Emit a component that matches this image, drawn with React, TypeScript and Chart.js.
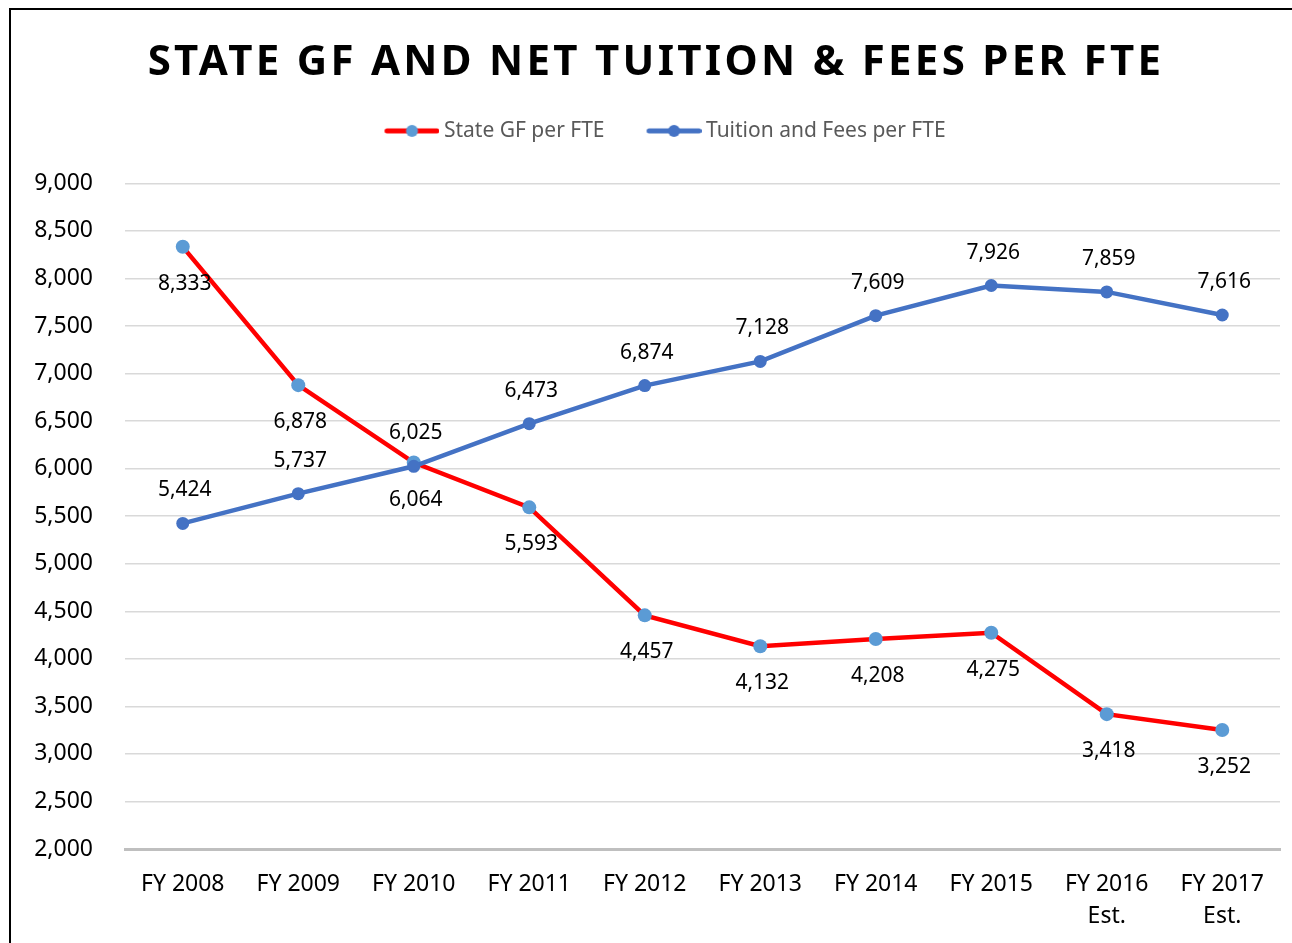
import React, { useEffect, useRef } from 'react';
import { Chart, registerables } from 'chart.js';

Chart.register(...registerables);

const chartTitle = 'STATE GF AND NET TUITION & FEES PER FTE';
const categories = [
  'FY 2008', 'FY 2009', 'FY 2010', 'FY 2011', 'FY 2012',
  'FY 2013', 'FY 2014', 'FY 2015', 'FY 2016\nEst.', 'FY 2017\nEst.',
];
const stateGFLabel = 'State GF per FTE';
const stateGF = [8333, 6878, 6064, 5593, 4457, 4132, 4208, 4275, 3418, 3252];
const tuitionLabel = 'Tuition and Fees per FTE';
const tuition = [5424, 5737, 6025, 6473, 6874, 7128, 7609, 7926, 7859, 7616];
const yMin = 2000;
const yMax = 9000;
const yStep = 500;

const FONT = '"Noto Sans", "DejaVu Sans", sans-serif';
const fmt = (v: number) => v.toLocaleString('en-US');

function legendMarker(lineColor: string, dotColor: string) {
  const c = document.createElement('canvas');
  c.width = 93;
  c.height = 16;
  const g = c.getContext('2d')!;
  g.strokeStyle = lineColor;
  g.lineWidth = 5;
  g.lineCap = 'round';
  g.beginPath();
  g.moveTo(40.5, 8);
  g.lineTo(90.5, 8);
  g.stroke();
  g.fillStyle = dotColor;
  g.beginPath();
  g.arc(65.5, 8, 6, 0, Math.PI * 2);
  g.fill();
  return c;
}

const dataLabelsPlugin = {
  id: 'dataLabels',
  afterDatasetsDraw(chart: any) {
    const ctx = chart.ctx;
    ctx.save();
    ctx.font = `21px ${FONT}`;
    ctx.fillStyle = '#000000';
    ctx.textAlign = 'center';
    ctx.textBaseline = 'middle';
    chart.data.datasets.forEach((ds: any, i: number) => {
      const meta = chart.getDatasetMeta(i);
      meta.data.forEach((pt: any, j: number) => {
        ctx.fillText(fmt(ds.data[j]), pt.x + 2, pt.y + ds.labelOffset);
      });
    });
    ctx.restore();
  },
};

const layoutPatchPlugin = {
  id: 'layoutPatch',
  beforeLayout(chart: any) {
    const lg = chart.legend;
    if (lg && !lg.__patched) {
      const origFit = lg.fit.bind(lg);
      lg.fit = function () {
        origFit();
        this.height += 32;
      };
      const origDraw = lg.draw.bind(lg);
      lg.draw = function () {
        const c = chart.ctx;
        c.save();
        c.translate(-7, 0);
        origDraw();
        c.restore();
      };
      lg.__patched = true;
    }
  },
  beforeDraw(chart: any) {
    const tb = chart.titleBlock;
    if (tb && !tb.__patched) {
      const origDraw = tb.draw.bind(tb);
      tb.draw = function () {
        const c = chart.ctx;
        c.save();
        c.letterSpacing = '3.3px';
        origDraw();
        c.restore();
      };
      tb.__patched = true;
    }
  },
};

export default function App() {
  const ref = useRef<HTMLCanvasElement | null>(null);

  useEffect(() => {
    if (!ref.current) return;
    const redMarker = legendMarker('#FF0000', '#5B9BD5');
    const blueMarker = legendMarker('#4472C4', '#4472C4');
    const chart = new Chart(ref.current, {
      type: 'line',
      data: {
        labels: categories.map((c) => c.split('\n')),
        datasets: [
          {
            label: stateGFLabel,
            data: stateGF,
            borderColor: '#FF0000',
            backgroundColor: '#5B9BD5',
            pointBackgroundColor: '#5B9BD5',
            pointBorderColor: '#5B9BD5',
            pointRadius: 7,
            pointBorderWidth: 0,
            borderWidth: 4.5,
            tension: 0,
            order: 1,
            labelOffset: 37,
          } as any,
          {
            label: tuitionLabel,
            data: tuition,
            borderColor: '#4472C4',
            backgroundColor: '#4472C4',
            pointBackgroundColor: '#4472C4',
            pointBorderColor: '#4472C4',
            pointRadius: 6.5,
            pointBorderWidth: 0,
            borderWidth: 4.5,
            tension: 0,
            order: 0,
            labelOffset: -33,
          } as any,
        ],
      },
      options: {
        responsive: false,
        animation: false,
        devicePixelRatio: 1,
        layout: { padding: { top: 0, left: 21, right: 12, bottom: 0 } },
        plugins: {
          title: {
            display: true,
            text: chartTitle,
            color: '#000000',
            font: { family: FONT, size: 42, weight: 'bold', lineHeight: 1.2 },
            padding: { top: 28, bottom: 22 },
          },
          legend: {
            display: true,
            position: 'top',
            labels: {
              usePointStyle: true,
              pointStyleWidth: 81,
              padding: 10,
              color: '#595959',
              font: { family: FONT, size: 21 },
              sort: (a: any, b: any) => a.datasetIndex - b.datasetIndex,
              generateLabels: (ch: any) =>
                ch.data.datasets.map((ds: any, i: number) => ({
                  text: ds.label,
                  datasetIndex: i,
                  pointStyle: i === 0 ? redMarker : blueMarker,
                  fillStyle: ds.borderColor,
                  strokeStyle: ds.borderColor,
                  lineWidth: 0,
                  hidden: false,
                  fontColor: '#595959',
                })),
            },
          },
          tooltip: { enabled: false },
        },
        scales: {
          x: {
            type: 'category',
            offset: true,
            grid: { display: false, drawTicks: false },
            border: { display: true, color: '#BFBFBF', width: 3 },
            ticks: {
              color: '#000000',
              padding: 19,
              maxRotation: 0,
              autoSkip: false,
              font: { family: FONT, size: 23, lineHeight: 1.4 },
            },
            afterFit: (scale: any) => {
              scale.height = 94;
            },
          },
          y: {
            min: yMin,
            max: yMax,
            grid: { color: '#D9D9D9', lineWidth: 1.5, drawTicks: false },
            border: { display: false },
            ticks: {
              stepSize: yStep,
              color: '#000000',
              padding: 32,
              font: { family: FONT, size: 23 },
              callback: (v: any) => fmt(Number(v)),
            },
            afterFit: (scale: any) => {
              scale.width = 93;
            },
          },
        },
      } as any,
      plugins: [dataLabelsPlugin, layoutPatchPlugin],
    });
    return () => chart.destroy();
  }, []);

  return (
    <div
      style={{
        position: 'fixed',
        left: 9,
        top: 8,
        width: 1320,
        height: 1000,
        border: '2px solid #000',
        boxSizing: 'border-box',
        background: '#fff',
      }}
    >
      <canvas ref={ref} width={1281} height={933} style={{ display: 'block' }} />
    </div>
  );
}
